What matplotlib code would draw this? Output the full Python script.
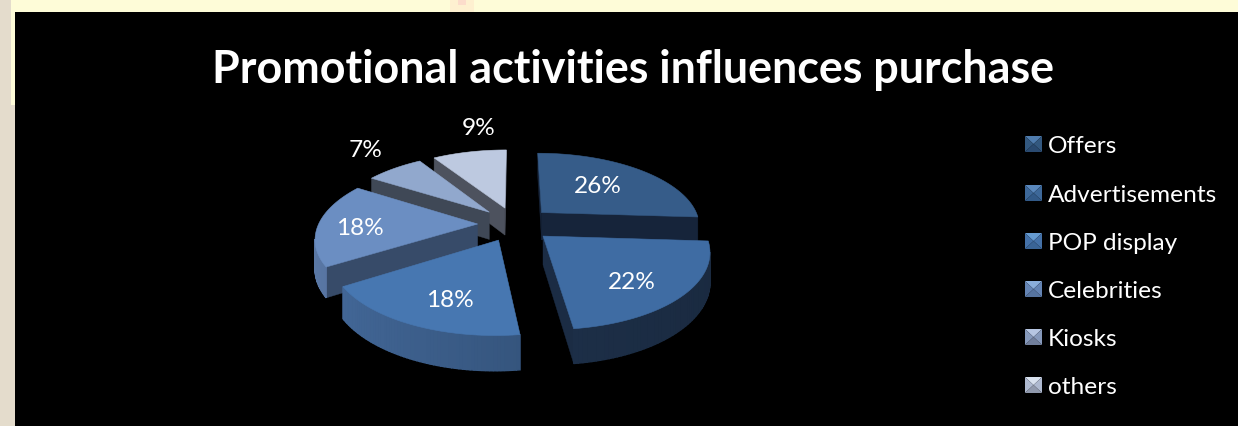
#!/usr/bin/env python3
# promo_pie.py - exploded 3D pie drawn by hand, with a perspective disc

import numpy as np
import matplotlib
matplotlib.use("Agg")
import matplotlib.pyplot as plt
from matplotlib.colors import to_rgb
from matplotlib.patches import Polygon, Rectangle

labels = ["Offers", "Advertisements", "POP display", "Celebrities", "Kiosks", "others"]
shares = [26, 22, 18, 18, 7, 9]

top_colors = ["#365c89", "#3f6ca3", "#4777b1", "#6b8ec2", "#91a8cd", "#bdc9e0"]
wall_colors = ["#16243a", "#1b2c44", "#24405f", "#374b69", "#3f4856", "#4d525e"]
rim_light = ["#24405f", "#1f3450", "#44699a", "#5a78a6", "#4a5360", "#555b68"]
rim_dark = ["#1a2a42", "#1a2a40", "#2a4668", "#3f5579", "#3f4856", "#4d525e"]
legend_top = ["#4f7cae", "#5a88bd", "#659ad0", "#8aaedb", "#b6c6e2", "#d8e1ef"]
legend_side = ["#33587f", "#3d6899", "#4471a8", "#6484b4", "#8699bb", "#aeb9d0"]
legend_low = ["#2a4a70", "#325a88", "#3a6496", "#55739f", "#717f9c", "#9099ad"]

label_pos = [(598, 187), (632, 283), (450, 301), (360, 229), (366, 151), (479, 129)]
legend_y = [145, 194, 242, 290, 338, 386]

CX, CY = 515, 225
RX, RY = 159, 73
PERSP = 0.17
EXPLODE = 0.235
DEPTH = 28


def project(u, v, down=0.0):
    s = 1.0 / (1.0 - PERSP * v)
    return CX + RX * u * s, CY + RY * v * s + DEPTH * s * down


def signed_area(pts):
    x, y = np.array(pts).T
    return 0.5 * np.sum(x * np.roll(y, -1) - np.roll(x, -1) * y)


def draw_slice(ax, a0, a1, i):
    mid = 0.5 * (a0 + a1)
    du, dv = EXPLODE * np.sin(mid), -EXPLODE * np.cos(mid)
    ang = np.linspace(a0, a1, 60)
    us = du + np.sin(ang)
    vs = dv - np.cos(ang)

    top = [project(du, dv)] + [project(u, v) for u, v in zip(us, vs)]
    apex_top, apex_bot = project(du, dv), project(du, dv, 1)

    # flat side walls, only the ones facing the viewer
    for k, sign in ((0, 1), (-1, -1)):
        quad = [apex_top, project(us[k], vs[k]), project(us[k], vs[k], 1), apex_bot]
        if sign * signed_area(quad) < 0:
            ax.add_patch(Polygon(quad, fc=wall_colors[i], ec=wall_colors[i], lw=0.3))

    # curved outer wall, shaded from one end to the other
    c0, c1 = np.array(to_rgb(rim_light[i])), np.array(to_rgb(rim_dark[i]))
    for k in range(len(ang) - 1):
        quad = [project(us[k], vs[k]), project(us[k + 1], vs[k + 1]),
                project(us[k + 1], vs[k + 1], 1), project(us[k], vs[k], 1)]
        if signed_area(quad) < 0:
            t = np.sin(ang[k]) * 0.5 + 0.5
            col = c1 * t + c0 * (1 - t)
            ax.add_patch(Polygon(quad, fc=col, ec=col, lw=1.0))

    ax.add_patch(Polygon(top, fc=top_colors[i], ec=top_colors[i], lw=0.4))


def draw_legend(ax):
    for i, (name, y) in enumerate(zip(labels, legend_y)):
        x0, x1, y0, y1 = 1025, 1042, y - 8, y + 8
        xm, ym = 0.5 * (x0 + x1), 0.5 * (y0 + y1)
        ax.add_patch(Polygon([(x0, y0), (x1, y0), (xm, ym)], fc=legend_top[i], lw=0))
        ax.add_patch(Polygon([(x0, y0), (x0, y1), (xm, ym)], fc=legend_side[i], lw=0))
        ax.add_patch(Polygon([(x1, y0), (x1, y1), (xm, ym)], fc=legend_side[i], lw=0))
        ax.add_patch(Polygon([(x0, y1), (x1, y1), (xm, ym)], fc=legend_low[i], lw=0))
        ax.text(1048, y + 2, name, color="white", fontsize=17.6, family="Lato",
                ha="left", va="center")


def main():
    fig = plt.figure(figsize=(12.38, 4.27), dpi=100)
    ax = fig.add_axes([0, 0, 1, 1])
    ax.set_xlim(0, 1238)
    ax.set_ylim(427, 0)
    ax.axis("off")

    # page behind the chart
    ax.add_patch(Rectangle((0, 0), 1238, 427, fc="#e4dccc", lw=0))
    ax.add_patch(Rectangle((11, 0), 1227, 13, fc="#fefcd8", lw=0))
    ax.add_patch(Rectangle((11, 0), 4, 106, fc="#fefcd8", lw=0))
    ax.add_patch(Rectangle((450, 0), 24, 13, fc="#fef0d0", lw=0))
    ax.add_patch(Rectangle((458, 0), 8, 6, fc="#fcdccb", lw=0))
    ax.add_patch(Rectangle((15, 13), 1223, 414, fc="black", lw=0))

    ax.text(633, 70, "Promotional activities influences purchase", color="white",
            fontsize=32.3, fontweight="bold", family="Lato", ha="center", va="center")

    edges = 2 * np.pi * np.cumsum([0] + shares) / sum(shares)
    # back slices first so the front ones overlap them
    for i in [5, 4, 0, 3, 1, 2]:
        draw_slice(ax, edges[i], edges[i + 1], i)

    for share, (x, y) in zip(shares, label_pos):
        ax.text(x, y, f"{share}%", color="white", fontsize=17.6, family="Lato",
                ha="center", va="center")

    draw_legend(ax)
    fig.savefig("out.png", dpi=100)


if __name__ == "__main__":
    main()
